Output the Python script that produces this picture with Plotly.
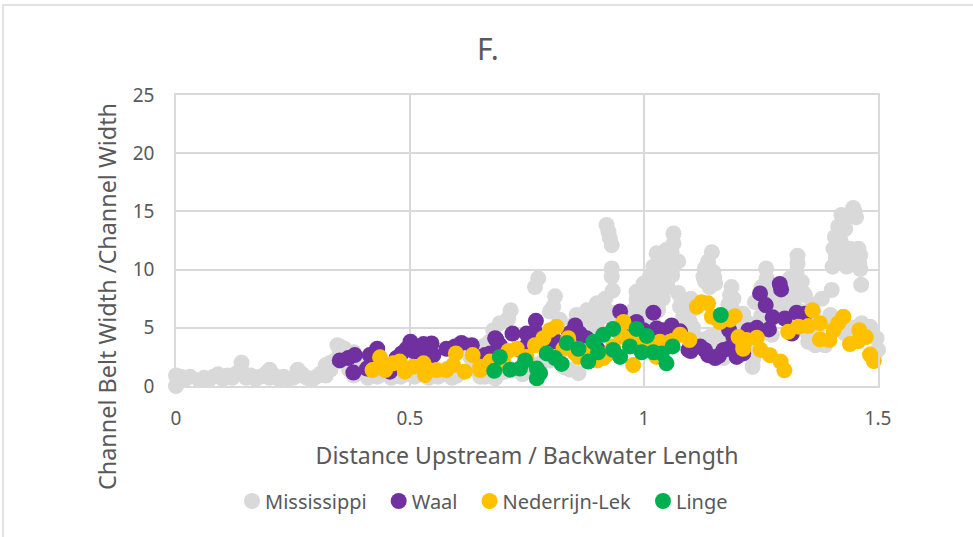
import plotly.graph_objects as go

miss_x = [0.0,0.0,0.005,0.01,0.02,0.03,0.05,0.06,0.07,0.08,0.09,0.1,0.11,0.12,0.13,0.14,0.14,0.15,0.16,0.17,0.18,0.19,0.2,0.2,0.21,0.22,0.23,0.24,0.25,0.26,0.26,0.27,0.28,0.29,0.3,0.31,0.32,0.33,0.34,0.345,0.35,0.36,0.37,0.38,0.39,0.4,0.41,0.42,0.43,0.44,0.45,0.46,0.47,0.48,0.49,0.5,0.51,0.52,0.53,0.54,0.55,0.56,0.57,0.58,0.59,0.6,0.61,0.62,0.63,0.64,0.65,0.66,0.67,
 0.92,0.924,0.927,0.931,0.931,0.931,0.933,0.917,0.899,0.878,0.856,0.871,0.899,0.81,0.806,0.799,0.82,0.774,0.767,0.715,0.71,0.692,0.678,0.67,0.842,0.86,0.828,0.8,0.682,0.66,
 0.984,0.984,0.977,0.97,1.02,1.013,1.013,1.006,1.038,1.063,1.063,1.059,1.073,1.048,1.041,1.027,1.02,1.073,1.077,1.084,1.095,1.048,1.027,0.999,0.991,
 1.145,1.137,1.13,1.127,1.148,1.152,1.187,1.184,1.191,1.18,1.098,1.105,1.155,1.152,1.17,1.212,1.219,1.232,1.234,1.261,1.262,1.251,1.237,1.283,1.29,1.273,
 1.328,1.328,1.326,1.312,1.337,1.344,1.326,1.3,1.401,1.38,1.362,1.398,1.351,1.366,1.387,1.433,1.465,1.483,1.497,1.5,1.403,1.405,1.408,1.415,1.422,1.447,1.453,1.433,1.44,1.458,1.462,1.462,1.464,1.419,
 0.7,0.72,0.74,0.76,0.78,0.8,0.83,0.88,0.9,0.92,0.94,0.96,1.0,1.03,1.05,1.06,1.12,1.2,1.22,1.25,1.3,1.35,1.44,1.47,
 1.0,1.0,1.01,1.02,1.03,1.03,1.04,1.05,1.05,1.06,1.06,1.04,1.03,1.0,0.99,0.98,
 0.88,0.9,0.92,0.9,0.94,0.95,0.85,0.87,
 1.13,1.14,1.15,1.14,1.19,1.2,1.18,1.17,1.2,1.21,1.16,1.14,
 1.27,1.28,1.31,1.32,1.34,1.33,1.3,1.25,1.36,1.35,1.35,1.37,1.4,1.43,1.45,1.47,1.49,
 1.41,1.42,1.42,1.43,1.44,1.45,1.43,1.45,1.46,1.415,
 1.1,1.1,1.09,1.11,1.12,1.08,
 0.36,0.35,0.38,0.33,0.32,0.62,0.64,0.66,0.65]
miss_y = [0.0,0.9,0.5,0.8,0.6,0.8,0.5,0.7,0.5,0.8,1.0,0.6,0.9,0.7,1.1,1.3,2.0,0.7,0.9,0.6,0.8,1.0,0.7,1.4,0.9,0.6,0.8,0.6,0.7,0.9,1.4,1.0,0.7,0.5,0.8,1.1,0.9,1.4,2.2,3.5,3.0,2.7,1.4,0.9,1.9,1.1,0.7,1.4,0.8,1.0,1.7,0.7,1.2,0.8,1.5,1.0,0.8,1.3,1.0,0.7,1.4,0.8,1.0,1.5,0.7,0.9,1.2,3.5,2.4,1.4,0.8,1.0,1.6,
 13.83,13.26,12.7,12.1,10.1,9.4,8.2,7.5,7.1,6.5,6.1,5.1,5.1,7.7,6.8,6.4,5.7,9.25,8.5,6.5,5.8,5.4,4.8,3.8,1.4,1.1,1.7,2.2,0.65,0.8,
 8.1,7.4,6.5,5.8,10.25,9.4,8.2,7.2,11.1,13.1,12.25,11.5,10.7,9.7,8.7,7.4,5.4,8.0,6.8,5.95,4.5,11.7,11.4,8.8,6.5,
 11.5,10.7,10.1,9.4,9.8,8.8,8.5,7.8,7.5,7.0,5.5,5.0,4.4,3.8,2.4,6.2,5.5,1.65,2.4,10.1,9.25,8.5,7.2,7.2,6.4,4.4,
 11.2,10.5,9.8,9.25,8.96,7.8,7.8,7.8,8.25,7.5,6.4,6.1,3.8,3.5,3.5,5.1,5.4,5.1,4.1,3.1,10.25,11.8,12.8,13.7,14.7,15.3,14.5,10.25,11.8,11.8,11.25,10.05,8.7,10.7,
 1.2,1.4,1.0,1.5,2.0,2.5,1.6,5.5,5.5,6.0,5.5,5.8,6.2,7.0,8.5,9.5,4.0,4.8,3.5,5.5,6.0,5.5,11.0,4.6,
 8.5,7.5,7.0,9.0,10.0,8.5,9.5,10.5,9.0,10.0,11.0,7.5,6.5,5.5,7.5,6.0,
 5.5,6.0,6.5,4.5,6.3,6.0,5.3,6.0,
 9.0,9.5,9.3,8.5,6.5,6.0,6.5,5.5,4.5,5.0,3.8,4.2,
 8.0,6.5,8.5,7.0,8.0,6.5,7.0,6.0,7.0,4.5,5.5,4.5,5.5,4.5,5.0,4.5,4.3,
 11.0,11.2,12.5,13.5,14.7,15.0,10.8,11.2,10.5,12.0,
 6.5,7.5,5.0,4.0,3.5,7.5,
 3.2,3.4,2.9,2.0,1.8,3.5,3.2,3.5,1.3]

waal_x = [0.35,0.368,0.382,0.379,0.414,0.43,0.408,0.457,0.471,0.482,0.493,0.501,0.51,0.529,0.535,0.546,0.55,0.578,0.596,0.61,0.632,0.653,0.66,0.671,0.682,0.685,0.692,0.719,0.735,0.749,0.767,0.769,0.813,0.853,0.863,0.877,0.949,0.984,0.999,1.02,1.027,1.059,1.077,1.095,1.098,1.12,1.137,1.152,1.17,1.18,1.198,1.212,1.182,1.191,1.223,1.241,1.267,1.275,1.301,1.326,1.344,1.316,1.248,1.26,1.29,1.293,0.79,0.84,0.75,0.9,0.96,1.0,1.04,1.1,1.13,1.16]
waal_y = [2.2,2.4,2.66,1.15,2.66,3.2,1.5,1.23,2.4,2.8,3.2,3.8,2.95,3.6,2.8,3.66,2.66,3.2,3.4,3.7,3.5,2.5,2.66,2.8,4.1,3.95,3.5,4.5,3.1,4.5,4.7,5.6,3.8,5.2,4.5,4.1,6.4,5.5,4.8,6.3,4.95,5.2,4.7,3.1,3.1,3.4,2.65,2.4,3.1,3.2,2.5,2.8,4.8,4.2,4.8,5.0,4.86,5.9,5.8,6.3,6.2,4.5,7.95,6.95,8.76,8.3,4.0,4.5,3.5,3.2,4.2,4.6,4.8,3.0,3.1,2.6]

lek_x = [0.42,0.436,0.447,0.464,0.478,0.489,0.507,0.529,0.532,0.557,0.578,0.592,0.598,0.617,0.634,0.65,0.65,0.671,0.674,0.728,0.749,0.767,0.785,0.799,0.813,0.838,0.828,0.853,0.913,0.934,0.956,0.949,0.977,0.963,0.984,1.034,1.027,1.056,1.077,1.097,1.113,1.123,1.137,1.145,1.162,1.184,1.194,1.202,1.212,1.219,1.241,1.249,1.269,1.292,1.3,1.308,1.33,1.351,1.36,1.376,1.376,1.396,1.405,1.415,1.426,1.44,1.458,1.46,1.474,1.483,1.491,0.7,0.71,0.9,0.92,0.98,1.01,1.03,0.86,0.87]
lek_y = [1.37,2.46,1.37,1.95,2.1,1.23,1.66,1.95,0.94,1.37,1.37,1.8,2.8,1.23,2.66,1.37,1.65,2.1,1.66,3.2,2.5,3.5,4.1,4.8,5.1,4.1,3.2,2.8,2.4,3.4,5.5,4.5,1.8,4.1,3.7,3.8,2.5,3.8,4.4,3.95,6.8,7.2,7.1,5.95,5.5,5.7,6.0,4.2,3.2,3.95,4.15,3.1,2.65,2.1,1.35,4.65,5.1,5.15,6.5,5.4,4.0,3.95,4.8,5.4,5.95,3.6,3.85,4.8,4.2,2.7,2.15,2.0,3.0,2.2,2.7,3.4,3.4,3.2,2.5,3.0]

linge_x = [0.692,0.68,0.714,0.746,0.735,0.771,0.771,0.778,0.792,0.81,0.824,0.835,0.86,0.881,0.892,0.913,0.934,0.902,0.934,0.949,0.97,0.984,1.006,0.995,1.02,1.038,1.048,1.061,1.164]
linge_y = [2.5,1.3,1.4,2.2,1.5,1.5,0.65,1.1,2.8,2.4,1.9,3.7,3.2,2.1,3.8,4.4,4.9,2.9,3.1,2.5,3.4,4.9,4.3,2.9,2.9,2.8,1.95,3.4,6.1]

series = [("Mississippi", miss_x, miss_y, "#D9D9D9"),
          ("Waal", waal_x, waal_y, "#7030A0"),
          ("Nederrijn-Lek", lek_x, lek_y, "#FFC000"),
          ("Linge", linge_x, linge_y, "#00B050")]

fig = go.Figure()
for name, x, y, c in series:
    fig.add_trace(go.Scatter(x=x, y=y, mode="markers", name=name, cliponaxis=False,
                             marker=dict(size=16, color=c, line=dict(width=0))))

W, H = 973, 537
L, R, T, B = 176, 95, 95, 151
FONT = "Noto Sans"
INK = "#595959"
axis_common = dict(showgrid=True, gridcolor="#D9D9D9", gridwidth=1.5, showline=True,
                   linecolor="#D9D9D9", linewidth=1.5, mirror=True, zeroline=False,
                   ticks="outside", tickcolor="rgba(0,0,0,0)",
                   tickfont=dict(size=19, color=INK))
fig.update_layout(
    width=W, height=H, autosize=False, paper_bgcolor="white", plot_bgcolor="white",
    margin=dict(l=L, r=R, t=T, b=B, autoexpand=False),
    font=dict(family=FONT, color=INK),
    title=dict(text="F.", x=488/W, xanchor="center", y=1-49/H, yanchor="middle",
               font=dict(size=30, color=INK)),
    xaxis=dict(range=[0, 1.5], tickvals=[0, 0.5, 1, 1.5], ticktext=["0", "0.5", "1", "1.5"],
               ticklen=14,
               title=dict(text="Distance Upstream / Backwater Length", font=dict(size=23.1, color=INK), standoff=18),
               **axis_common),
    yaxis=dict(range=[0, 25], tickvals=[0, 5, 10, 15, 20, 25], ticklen=16, **axis_common),
    legend=dict(orientation="h", x=(232-L)/(W-L-R), xanchor="left", y=-(501-386)/(H-T-B), yanchor="middle",
                font=dict(size=20, color=INK), itemsizing="trace", bgcolor="rgba(0,0,0,0)"),
    annotations=[dict(text="Channel Belt Width /Channel Width", textangle=-90, showarrow=False,
                      xref="paper", yref="paper", xanchor="center", yanchor="middle",
                      x=(107-L)/(W-L-R), y=(386-297)/(H-T-B),
                      font=dict(size=23.4, color=INK))],
    shapes=[dict(type="rect", xref="paper", yref="paper",
                 x0=(3-L)/(W-L-R), x1=(W+5-L)/(W-L-R),
                 y0=-1, y1=1+(T-5)/(H-T-B),
                 line=dict(color="#D9D9D9", width=1.5), fillcolor="rgba(0,0,0,0)", layer="below")],
)
fig.write_html("out.html", config={"displayModeBar": False}, post_script=(
    "document.body.style.margin='0';"
    "document.querySelectorAll('.legendtext').forEach(function(t){t.setAttribute('x', parseFloat(t.getAttribute('x'))-7);});"
))
